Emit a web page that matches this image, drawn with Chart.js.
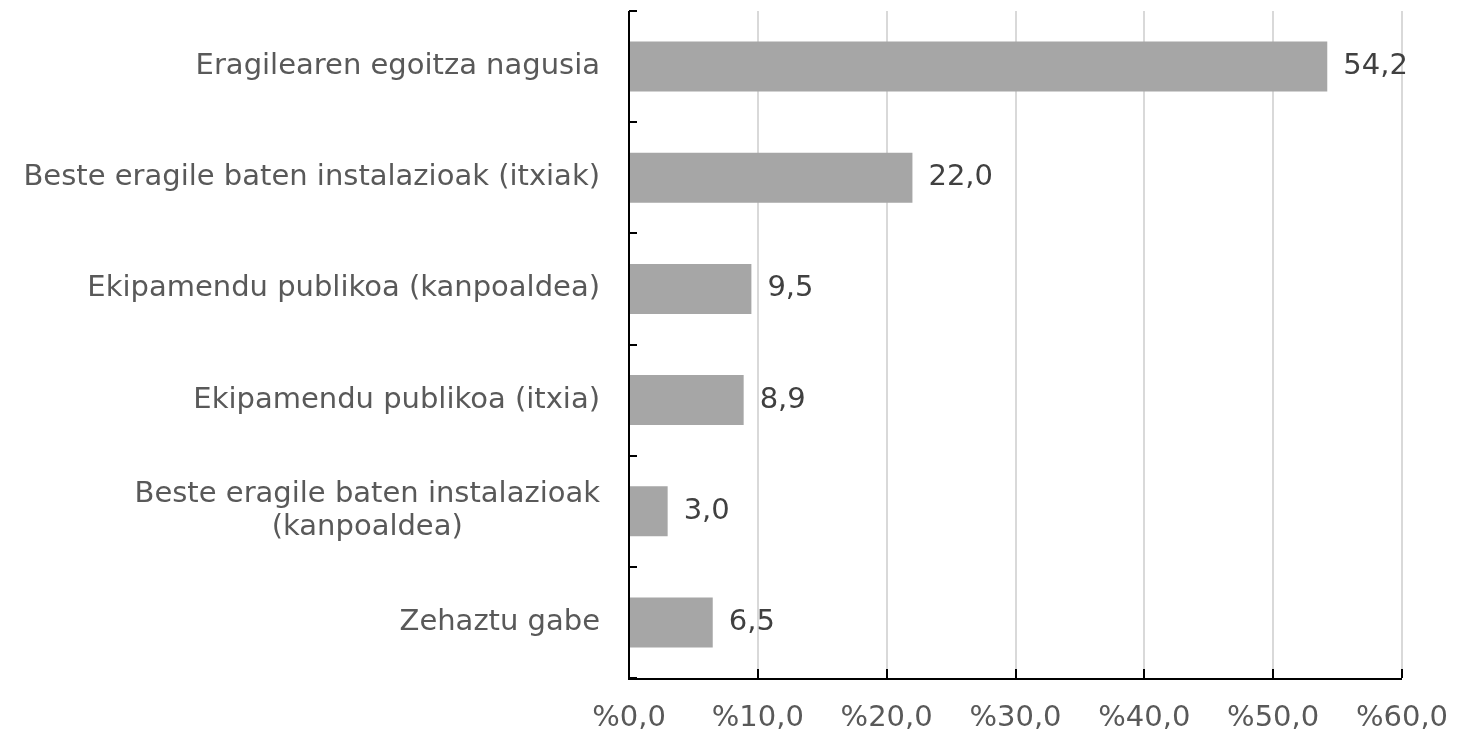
<!DOCTYPE html>
<html>
<head>
<meta charset="utf-8">
<script src="https://cdn.jsdelivr.net/npm/chart.js@4"></script>
<style>
  html, body { margin: 0; padding: 0; background: #fff; }
  #wrap { width: 1457px; height: 732px; }
</style>
</head>
<body>
<div id="wrap"><canvas id="c" width="1457" height="732"></canvas></div>
<script>
const categories = [
  ["Eragilearen egoitza nagusia"],
  ["Beste eragile baten instalazioak (itxiak)"],
  ["Ekipamendu publikoa (kanpoaldea)"],
  ["Ekipamendu publikoa (itxia)"],
  ["Beste eragile baten instalazioak", "(kanpoaldea)"],
  ["Zehaztu gabe"]
];
const values = [54.2, 22.0, 9.5, 8.9, 3.0, 6.5];
const axisMin = 0;
const axisMax = 60;
const axisStep = 10;

const FONT = '"DejaVu Sans", Verdana, sans-serif';
const FS = 29;

function fmt(v, d) {
  return v.toFixed(d).replace('.', ',');
}

const customDraw = {
  id: 'customDraw',
  afterDraw(chart) {
    const ctx = chart.ctx;
    const xs = chart.scales.x, ys = chart.scales.y;
    const area = chart.chartArea;
    ctx.save();
    // category labels
    ctx.font = FS + 'px ' + FONT;
    ctx.fillStyle = '#595959';
    ctx.textBaseline = 'middle';
    const lh = 33;
    categories.forEach((lines, i) => {
      const cy = ys.getPixelForValue(i);
      const rightX = area.left - 29;
      const widths = lines.map(l => ctx.measureText(l).width);
      const maxW = Math.max(...widths);
      const blockCenter = rightX - maxW / 2;
      lines.forEach((l, j) => {
        const y = cy + (j - (lines.length - 1) / 2) * lh;
        ctx.textAlign = 'center';
        ctx.fillText(l, blockCenter, y);
      });
    });
    // value labels
    ctx.fillStyle = '#404040';
    ctx.textAlign = 'left';
    const meta = chart.getDatasetMeta(0);
    meta.data.forEach((bar, i) => {
      ctx.fillText(fmt(values[i], 1), bar.x + 16, bar.y);
    });
    // ticks
    ctx.strokeStyle = '#000';
    ctx.lineWidth = 2;
    for (let i = 0; i <= categories.length; i++) {
      const y = Math.round(ys.getPixelForValue(i - 0.5));
      ctx.beginPath();
      ctx.moveTo(area.left, y);
      ctx.lineTo(area.left + 8, y);
      ctx.stroke();
    }
    xs.ticks.forEach(t => {
      const x = Math.round(xs.getPixelForValue(t.value));
      ctx.beginPath();
      ctx.moveTo(x, area.bottom);
      ctx.lineTo(x, area.bottom - 9);
      ctx.stroke();
    });
    // axes lines
    ctx.beginPath();
    ctx.moveTo(area.left, area.top);
    ctx.lineTo(area.left, area.bottom + 1);
    ctx.lineTo(area.right, area.bottom + 1);
    ctx.stroke();
    ctx.restore();
  }
};

new Chart(document.getElementById('c'), {
  type: 'bar',
  data: {
    labels: categories,
    datasets: [{
      data: values,
      backgroundColor: '#a6a6a6',
      borderWidth: 0,
      barPercentage: 0.45,
      categoryPercentage: 1.0
    }]
  },
  options: {
    indexAxis: 'y',
    responsive: false,
    animation: false,
    devicePixelRatio: 1,
    layout: { padding: { top: 11, right: 55, left: 0, bottom: 0 } },
    plugins: { legend: { display: false }, tooltip: { enabled: false } },
    scales: {
      x: {
        type: 'linear',
        min: axisMin,
        max: axisMax,
        ticks: {
          stepSize: axisStep,
          color: '#595959',
          font: { family: FONT, size: FS },
          padding: 23,
          maxRotation: 0,
          callback: (v) => '%' + fmt(v, 1)
        },
        grid: { color: '#d9d9d9', lineWidth: 2, drawTicks: false },
        border: { display: false },
        afterFit(scale) {
          scale.height = 54;
          scale.paddingLeft = 0;
          scale.paddingRight = 0;
        }
      },
      y: {
        type: 'category',
        ticks: { display: false },
        grid: { display: false },
        border: { display: false },
        afterFit(scale) { scale.width = 629; }
      }
    }
  },
  plugins: [customDraw]
});
</script>
</body>
</html>
